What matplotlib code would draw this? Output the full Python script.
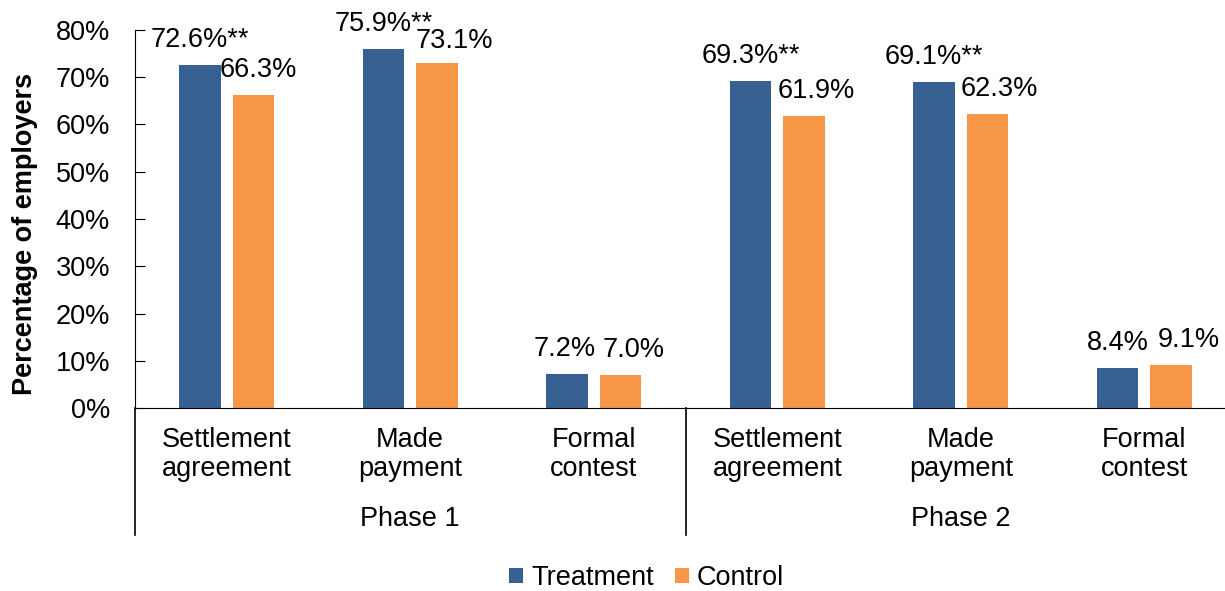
import numpy as np
import matplotlib
matplotlib.use("Agg")
import matplotlib.pyplot as plt

plt.rcParams['font.family'] = ['Liberation Sans', 'DejaVu Sans']

# data
categories = ["Settlement\nagreement", "Made\npayment", "Formal\ncontest",
              "Settlement\nagreement", "Made\npayment", "Formal\ncontest"]
phases = ["Phase 1", "Phase 2"]
treatment = [72.6, 75.9, 7.2, 69.3, 69.1, 8.4]
control = [66.3, 73.1, 7.0, 61.9, 62.3, 9.1]
treat_labels = ["72.6%**", "75.9%**", "7.2%", "69.3%**", "69.1%**", "8.4%"]
ctrl_labels = ["66.3%", "73.1%", "7.0%", "61.9%", "62.3%", "9.1%"]

# label nudges in pixels (the control labels sit a bit to the right)
treat_dx = [0, 0, -2, 0, 0, 0]
ctrl_dx = [5, 17, 13, 12, 12, 18]
ctrl_dy = [0, -3, 0, 0, 0, 0]

blue = '#376092'
orange = '#F79646'
fs = 19.5

fig = plt.figure(figsize=(12.25, 5.91), dpi=100)
ax = fig.add_axes([135/1225, (591-408)/591, 1101/1225, 378/591])

x = np.arange(len(categories))
w = 0.226
off = 0.1455
b1 = ax.bar(x - off, treatment, w, color=blue, label='Treatment')
b2 = ax.bar(x + off, control, w, color=orange, label='Control')

for r, t, dx in zip(b1, treat_labels, treat_dx):
    ax.annotate(t, (r.get_x() + r.get_width()/2, r.get_height()),
                xytext=(dx*0.72, 18), textcoords='offset points',
                ha='center', va='center', fontsize=fs)
for r, t, dx, dy in zip(b2, ctrl_labels, ctrl_dx, ctrl_dy):
    ax.annotate(t, (r.get_x() + r.get_width()/2, r.get_height()),
                xytext=(dx*0.72, 18 + dy*0.72), textcoords='offset points',
                ha='center', va='center', fontsize=fs)

ax.set_xlim(-0.5, 5.5)
ax.set_ylim(0, 80)
ax.set_yticks(range(0, 81, 10))
ax.set_yticklabels([f"{v}%" for v in range(0, 81, 10)])
ax.tick_params(axis='y', direction='in', length=7, pad=18, labelsize=fs)
ax.set_xticks(x)
ax.set_xticklabels(categories, fontsize=fs, linespacing=1.15)
ax.tick_params(axis='x', length=0, pad=14)

for s in ['top', 'right']:
    ax.spines[s].set_visible(False)

ax.set_ylabel('Percentage of employers', fontsize=fs, fontweight='bold')
ax.yaxis.set_label_coords(-0.088, 0.46)

# group separators and phase labels
trans = ax.get_xaxis_transform()
for sx in [-0.5, 2.5, 5.5]:
    ax.plot([sx, sx], [0, -0.336], transform=trans, color='black', lw=1.2, clip_on=False)
for i, p in enumerate(phases):
    ax.text(1 + 3*i, -0.294, p, transform=trans, ha='center', va='center', fontsize=fs)

fig.legend(loc='center', bbox_to_anchor=(0.528, 0.022), ncol=2, frameon=False,
           fontsize=fs, handlelength=0.5, handleheight=0.5, handletextpad=0.3,
           columnspacing=0.8)

fig.savefig('out.png', dpi=100)
